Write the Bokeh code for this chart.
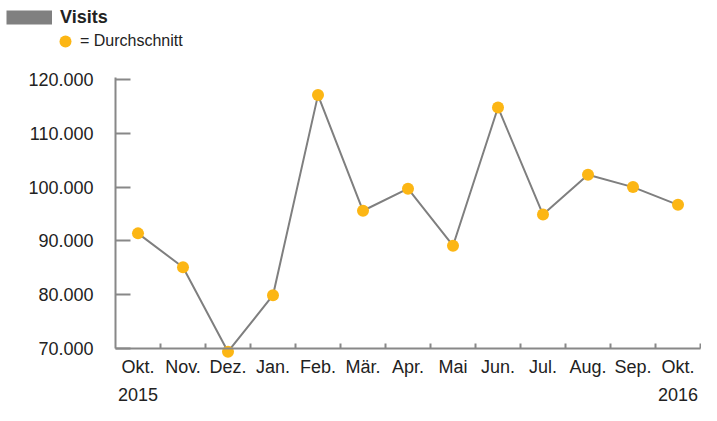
from bokeh.plotting import figure
from bokeh.models import Range1d, FixedTicker, Legend, LegendItem, LinearAxis
from bokeh.embed import file_html
from bokeh.resources import INLINE

# ---- data ----
months = ["Okt.", "Nov.", "Dez.", "Jan.", "Feb.", "Mär.", "Apr.",
          "Mai", "Jun.", "Jul.", "Aug.", "Sep.", "Okt."]
visits = [91400, 85100, 69400, 79900, 117100, 95600, 99700,
          89100, 114800, 94900, 102300, 100000, 96700]
year_labels = ["2015", "2016"]
year_index = [0, 12]
y_ticks = [70000, 80000, 90000, 100000, 110000, 120000]
y_tick_labels = ["70.000", "80.000", "90.000", "100.000", "110.000", "120.000"]

# ---- style / layout ----
FONT = "Liberation Sans"
TXT = "#222222"
AXC = "#888888"
LINEC = "#7f7f7f"
DOTC = "#FCB614"

W, H = 701, 405
X0 = 115          # pixel position of the y axis
CW = 45           # pixel width of one month
Y_BASE = 348      # pixel position of the lowest y tick
PX = 269 / 50000  # pixels per visit

n = len(months)
x = [i + 0.5 for i in range(n)]
boundaries = [i for i in range(1, n + 1)]
y_lo = y_ticks[0]

p = figure(width=W, height=H, output_backend="svg", toolbar_location=None,
           x_range=Range1d(-X0 / CW, (W - X0) / CW),
           y_range=Range1d(y_lo - (H - Y_BASE) / PX, y_lo + Y_BASE / PX),
           min_border=0, background_fill_color="white")
p.title.visible = False
p.outline_line_color = None
p.xgrid.grid_line_color = None
p.ygrid.grid_line_color = None

# x axis: line + boundary ticks + month labels
xa = p.xaxis[0]
xa.fixed_location = y_lo
xa.bounds = (0, n)
xa.ticker = FixedTicker(ticks=x, minor_ticks=boundaries)
xa.major_label_overrides = {xi: m for xi, m in zip(x, months)}
xa.major_tick_in = 0
xa.major_tick_out = 0
xa.minor_tick_in = 5
xa.minor_tick_out = 0
xa.minor_tick_line_width = 2
xa.minor_tick_line_color = AXC
xa.axis_line_width = 2
xa.axis_line_color = AXC
xa.major_label_standoff = 8
xa.major_label_text_font = FONT
xa.major_label_text_font_size = "18px"
xa.major_label_text_color = TXT

# second x axis: the years
yr_axis = LinearAxis(fixed_location=y_lo,
                     ticker=FixedTicker(ticks=[x[i] for i in year_index]),
                     major_label_overrides={x[i]: t for i, t in zip(year_index, year_labels)},
                     axis_line_color=None, major_tick_line_color=None,
                     minor_tick_line_color=None, major_label_standoff=33,
                     major_label_text_font=FONT, major_label_text_font_size="18px",
                     major_label_text_color=TXT)
p.add_layout(yr_axis, "below")

# y axis
ya = p.yaxis[0]
ya.fixed_location = 0
ya.bounds = (y_lo, 120370)
ya.ticker = FixedTicker(ticks=y_ticks)
ya.major_label_overrides = dict(zip(y_ticks, y_tick_labels))
ya.major_tick_in = 15
ya.major_tick_out = 0
ya.major_tick_line_width = 2
ya.major_tick_line_color = AXC
ya.minor_tick_in = 0
ya.minor_tick_out = 0
ya.axis_line_width = 2
ya.axis_line_color = AXC
ya.major_label_standoff = 22
ya.major_label_text_font = FONT
ya.major_label_text_font_size = "18px"
ya.major_label_text_color = TXT

# series
p.line(x, visits, line_color=LINEC, line_width=2)
pts = p.scatter(x, visits, size=12, fill_color=DOTC, line_color=None)

# hidden wide stroke of the series, used only as the legend swatch
swatch = p.line(x, visits, line_color="#808080", line_width=14, visible=False)

leg1 = Legend(items=[LegendItem(label="Visits", renderers=[swatch])],
              location=(6, H - 6 - 22), glyph_width=46, glyph_height=22,
              label_height=22, label_standoff=8, padding=0, margin=0, spacing=0,
              border_line_color=None, background_fill_alpha=0,
              inactive_fill_alpha=0,
              label_text_font=FONT, label_text_font_size="18px",
              label_text_font_style="bold", label_text_color=TXT)
leg2 = Legend(items=[LegendItem(label="= Durchschnitt", renderers=[pts])],
              location=(50, H - 26 - 30), glyph_width=30, glyph_height=30,
              label_height=30, label_standoff=0, padding=0, margin=0, spacing=0,
              border_line_color=None, background_fill_alpha=0,
              label_text_font=FONT, label_text_font_size="16px",
              label_text_color=TXT)
p.add_layout(leg1)
p.add_layout(leg2)

open("out.html", "w").write(file_html(p, INLINE))
